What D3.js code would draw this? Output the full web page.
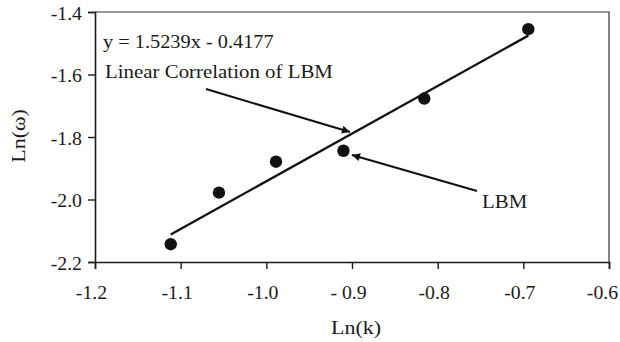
<!DOCTYPE html>
<html>
<head>
<meta charset="utf-8">
<script src="https://cdn.jsdelivr.net/npm/d3@7"></script>
<style>
  html, body { margin: 0; padding: 0; background: #fff; }
  svg text { font-family: "Liberation Serif", "Times New Roman", serif; fill: #1a1a1a; }
</style>
</head>
<body>
<svg id="chart" width="620" height="342"></svg>
<script>
// Measured points: ln(k) vs ln(omega)
const lnK = [-1.1116, -1.0553, -0.9887, -0.910, -0.8156, -0.6942];
const lnOmega = [-2.143, -1.978, -1.879, -1.844, -1.677, -1.455];

// Linear fit y = slope * x + intercept
const slope = 1.5239;
const intercept = -0.4177;

const xTicks = [-1.2, -1.1, -1.0, -0.9, -0.8, -0.7, -0.6];
const xTickLabels = ["-1.2", "-1.1", "-1.0", "- 0.9", "-0.8", "-0.7", "-0.6"];
const yTicks = [-1.4, -1.6, -1.8, -2.0, -2.2];
const yTickLabels = ["-1.4", "-1.6", "-1.8", "-2.0", "-2.2"];

const svg = d3.select("#chart");
const plot = { left: 95, right: 609, top: 12, bottom: 262 };

const x = d3.scaleLinear().domain([-1.2, -0.6]).range([plot.left, plot.right]);
const y = d3.scaleLinear().domain([-2.2, -1.4]).range([plot.bottom, plot.top]);

// Horizontally widened serif lettering
const stretch = 1.13;
function label(px, py, str, size, anchor = "start", rotate = 0) {
  return svg.append("text")
    .attr("transform", `translate(${px},${py}) rotate(${rotate}) scale(${stretch},1)`)
    .attr("text-anchor", anchor)
    .attr("font-size", size)
    .text(str);
}

// Frame: top and right borders
svg.append("path")
  .attr("d", `M${plot.left},${plot.top}H${plot.right}V${plot.bottom}`)
  .attr("fill", "none").attr("stroke", "#333").attr("stroke-width", 1.2);

const tickFont = 18;
const tickStretch = 1.1;

const xAxis = svg.append("g")
  .attr("transform", `translate(0,${plot.bottom})`)
  .call(d3.axisBottom(x).tickValues(xTicks)
    .tickFormat((d, i) => xTickLabels[i]).tickSize(7).tickPadding(17));
const yAxis = svg.append("g")
  .attr("transform", `translate(${plot.left},0)`)
  .call(d3.axisLeft(y).tickValues(yTicks)
    .tickFormat((d, i) => yTickLabels[i]).tickSize(7).tickPadding(6));

[xAxis, yAxis].forEach(g => {
  g.attr("font-family", null).attr("font-size", null);
  g.select(".domain").attr("stroke", "#1a1a1a").attr("stroke-width", 1.6);
  g.selectAll(".tick line").attr("stroke", "#1a1a1a").attr("stroke-width", 1.4);
  g.selectAll(".tick text").attr("font-size", tickFont).attr("fill", "#1a1a1a")
    .attr("transform", `scale(${tickStretch},1)`);
});
const nX = xTicks.length;
xAxis.selectAll(".tick text")
  .attr("dx", (d, i) => (i === nX - 1 ? -7 : -4) / tickStretch);
yAxis.selectAll(".tick text")
  .attr("x", -13 / tickStretch).attr("dy", "0.4em");

// Axis titles
label(356, 334, "Ln(k)", 19.5, "middle");
label(25, 136, "Ln(ω)", 19.5, "middle", -90);

// Fit line across the data range
const xMin = d3.min(lnK), xMax = d3.max(lnK);
svg.append("line")
  .attr("x1", x(xMin)).attr("y1", y(slope * xMin + intercept))
  .attr("x2", x(xMax)).attr("y2", y(slope * xMax + intercept))
  .attr("stroke", "#111").attr("stroke-width", 2.3);

// Data points
svg.append("g").selectAll("circle")
  .data(lnK.map((k, i) => [k, lnOmega[i]]))
  .join("circle")
  .attr("cx", d => x(d[0])).attr("cy", d => y(d[1]))
  .attr("r", 6.2).attr("fill", "#111");

// Arrow head
svg.append("defs").append("marker")
  .attr("id", "head").attr("viewBox", "0 0 10 10")
  .attr("refX", 10).attr("refY", 5)
  .attr("markerWidth", 11).attr("markerHeight", 8)
  .attr("markerUnits", "userSpaceOnUse")
  .attr("orient", "auto")
  .append("path").attr("d", "M0,0L10,5L0,10Z").attr("fill", "#111");

// Annotation: fit line
label(103, 48, `y = ${slope}x - ${Math.abs(intercept)}`, 18);
label(105, 78, "Linear Correlation of LBM", 18.5);
svg.append("line")
  .attr("x1", 206).attr("y1", 89).attr("x2", 350).attr("y2", 132)
  .attr("stroke", "#111").attr("stroke-width", 2).attr("marker-end", "url(#head)");

// Annotation: data points
label(482, 208, "LBM", 18.5);
svg.append("line")
  .attr("x1", 477).attr("y1", 191).attr("x2", 352).attr("y2", 155)
  .attr("stroke", "#111").attr("stroke-width", 2).attr("marker-end", "url(#head)");
</script>
</body>
</html>
